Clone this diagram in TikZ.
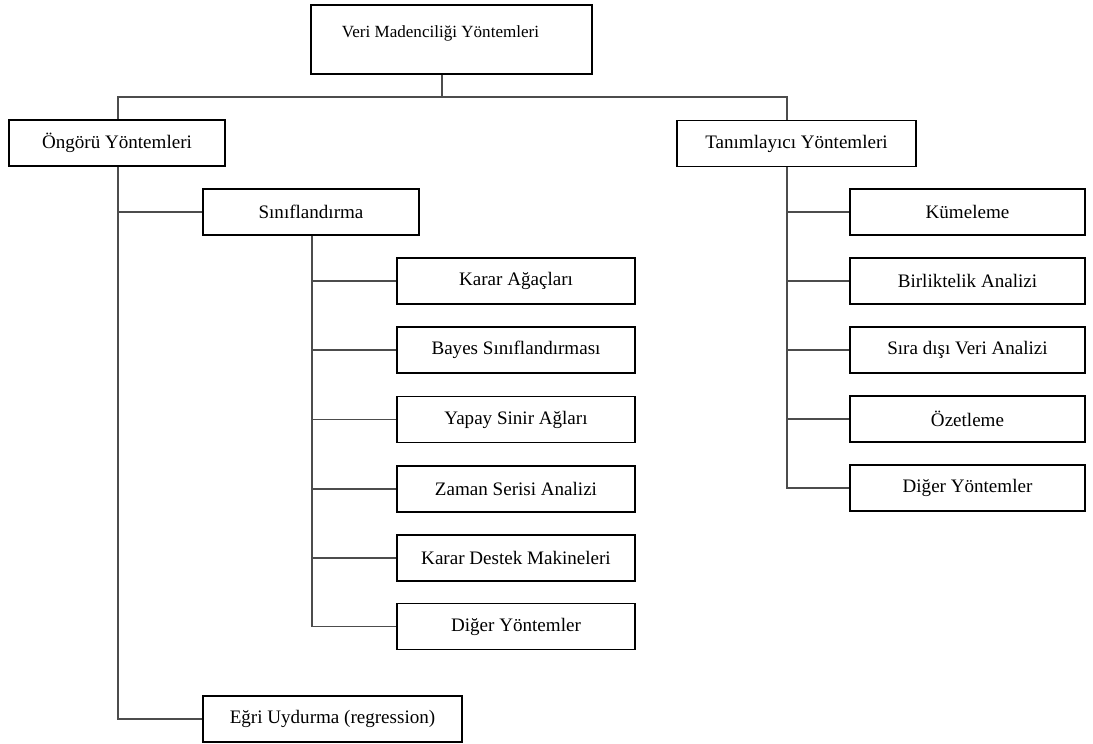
\documentclass[tikz,border=0pt]{standalone}
\usepackage{fontspec}
\setmainfont{Liberation Serif}
\begin{document}
\begin{tikzpicture}[x=0.75pt,y=-0.75pt,
  every node/.style={font=\fontsize{14.3}{17}\selectfont},
  box/.style={draw=black,line width=1.1pt,fill=white,minimum height=34.5pt,inner sep=0pt},
  wideA/.style={minimum width=162pt},
  wideB/.style={minimum width=178.5pt},
  wideC/.style={minimum width=176.5pt},
  conn/.style={draw=black!70,line width=1.3pt}]
\useasboundingbox[fill=white] (0,0) rectangle (1093,743);

% root
\node[box,minimum width=210.75pt,minimum height=51.75pt] (top) at (451.5,39.5) {};
\node[font=\fontsize{12.8}{15}\selectfont] (toptext) at (440.5,33) {Veri Madenciliği Yöntemleri};

% second level
\node[box,wideA] (ongoru) at (117,143) {Öngörü Yöntemleri};
\node[box,minimum width=179.25pt] (tanim) at (796.5,143.5) {Tanımlayıcı Yöntemleri};

% predictive branch
\node[box,wideA] (sinif) at (311,212) {Sınıflandırma};
\node[box,minimum width=194.25pt] (egri) at (332.5,719) {Eğri Uydurma (regression)};

\node[box,wideB] (c1) at (516,281) {Karar Ağaçları};
\node[box,wideB] (c2) at (516,350) {Bayes Sınıflandırması};
\node[box,wideB] (c3) at (516,419.5) {Yapay Sinir Ağları};
\node[box,wideB] (c4) at (516,489) {Zaman Serisi Analizi};
\node[box,wideB] (c5) at (516,558) {Karar Destek Makineleri};
\node[box,wideB] (c6) at (516,626.5) {Diğer Yöntemler};

% descriptive branch
\node[box,wideC] (d1) at (967.5,212) {Kümeleme};
\node[box,wideC] (d2) at (967.5,281) {Birliktelik Analizi};
\node[box,wideC] (d3) at (967.5,350) {Sıra dışı Veri Analizi};
\node[box,wideC] (d4) at (967.5,419) {Özetleme};
\node[box,wideC] (d5) at (967.5,488) {Diğer Yöntemler};

% trunk lines
\coordinate (tj) at (442,97);
\coordinate (lj) at (118,97);
\coordinate (rj) at (787,97);
\coordinate (sx) at (312,235);

\draw[conn] (top.south -| tj) -- (tj);
\draw[conn] (ongoru.north -| lj) -- (lj) -- (rj) -- (tanim.north -| rj);

\draw[conn] (ongoru.south -| lj) |- (egri.west);
\draw[conn] (lj |- sinif.west) -- (sinif.west);

\draw[conn] (sinif.south -| sx) |- (c6.west);
\foreach \n in {c1,c2,c3,c4,c5}
  \draw[conn] (sx |- \n.west) -- (\n.west);

\draw[conn] (tanim.south -| rj) |- (d5.west);
\foreach \n in {d1,d2,d3,d4}
  \draw[conn] (rj |- \n.west) -- (\n.west);
\end{tikzpicture}
\end{document}
